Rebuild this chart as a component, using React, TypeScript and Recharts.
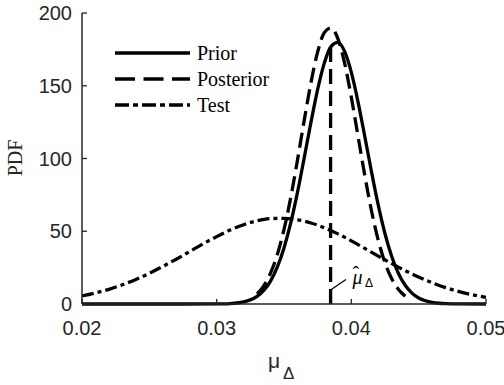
import React from 'react';
import {
  LineChart,
  Line,
  XAxis,
  YAxis,
  Legend,
  ReferenceLine,
  ReferenceDot,
} from 'recharts';

const X_TICKS = [0.02, 0.03, 0.04, 0.05];
const Y_TICKS = [0, 50, 100, 150, 200];
const SERIES_NAMES = ['Prior', 'Posterior', 'Test'];

// prior density
const priorX = [
  0.02, 0.025, 0.03, 0.0305, 0.031, 0.0315, 0.032, 0.0325, 0.033, 0.0335, 0.034, 0.0345,
  0.035, 0.0355, 0.036, 0.0365, 0.037, 0.0375, 0.038, 0.0385, 0.039, 0.0395, 0.04, 0.0405,
  0.041, 0.0415, 0.042, 0.0425, 0.043, 0.0435, 0.044, 0.0445, 0.045, 0.0455, 0.046, 0.0465,
  0.047, 0.048, 0.05,
];
const priorY = [
  0, 0, 0.06, 0.14, 0.32, 0.69, 1.44, 2.82, 5.27, 9.35, 15.75, 25.3,
  38.5, 55.7, 76.7, 100.4, 124.8, 147.5, 165.8, 177.1, 179.8, 173.6, 159.2, 138.8,
  115.1, 90.7, 67.9, 48.3, 32.7, 21.0, 12.9, 7.5, 4.1, 2.2, 1.08, 0.51,
  0.23, 0.04, 0,
];

// posterior density
const postX = [
  0.033, 0.0335, 0.034, 0.0345, 0.035, 0.0355, 0.036, 0.0365, 0.037, 0.0375, 0.038, 0.0385,
  0.039, 0.0395, 0.04, 0.0405, 0.041, 0.0415, 0.042, 0.0425, 0.043, 0.0435, 0.044,
];
const postY = [
  6.97, 12.5, 21.2, 33.9, 51.2, 73.2, 98.9, 126.2, 152.1, 173.3, 186.6, 189.8,
  182.4, 165.6, 142.1, 115.2, 88.3, 63.9, 43.7, 28.3, 17.3, 10.0, 5.4,
];

// test density
const testX = [
  0.02, 0.021, 0.022, 0.023, 0.024, 0.025, 0.026, 0.027, 0.028, 0.029, 0.03,
  0.031, 0.032, 0.033, 0.034, 0.035, 0.036, 0.037, 0.038, 0.039, 0.04,
  0.041, 0.042, 0.043, 0.044, 0.045, 0.046, 0.047, 0.048, 0.049, 0.05,
];
const testY = [
  5.5, 7.6, 10.1, 13.2, 16.9, 21.1, 25.8, 30.8, 36.1, 41.4, 46.3,
  50.8, 54.5, 57.2, 58.7, 58.9, 57.9, 55.7, 52.4, 48.2, 43.4,
  38.2, 32.9, 27.8, 22.9, 18.5, 14.6, 11.3, 8.5, 6.3, 4.6,
];

// point estimate marker
const estimateX = [0.03846, 0.03846];
const estimateY = [0, 180];

const AXIS = '#262626';
const NUM_FONT = '"Liberation Sans", Arial, sans-serif';
const SERIF = '"Liberation Serif", "Times New Roman", serif';

const LINE_W = 3.3;
const DASH_POST = '15 7';
const DASH_TEST = '12 4 4 4';

const toPoints = (xs: number[], ys: number[]) => xs.map((x, i) => ({ x, y: ys[i] }));

const prior = toPoints(priorX, priorY);
const posterior = toPoints(postX, postY);
const test = toPoints(testX, testY);
const estimate = toPoints(estimateX, estimateY);

const TICK_LEN = 5;

function BottomTick(props: any) {
  const { x, y, payload } = props;
  return (
    <g>
      <line x1={x} x2={x} y1={y} y2={y - TICK_LEN} stroke={AXIS} strokeWidth={1.3} />
      <text x={x} y={y + 31} textAnchor="middle" fill={AXIS} fontSize={20} fontFamily={NUM_FONT}>
        {Number(payload.value).toFixed(2)}
      </text>
    </g>
  );
}

function TopTick(props: any) {
  const { x, y } = props;
  return <line x1={x} x2={x} y1={y} y2={y + TICK_LEN} stroke={AXIS} strokeWidth={1.3} />;
}

function LeftTick(props: any) {
  const { x, y, payload } = props;
  return (
    <g>
      <line x1={x} x2={x + TICK_LEN} y1={y} y2={y} stroke={AXIS} strokeWidth={1.3} />
      <text x={x - 10} y={y} dy="0.36em" textAnchor="end" fill={AXIS} fontSize={20} fontFamily={NUM_FONT}>
        {payload.value}
      </text>
    </g>
  );
}

function RightTick(props: any) {
  const { x, y } = props;
  return <line x1={x} x2={x - TICK_LEN} y1={y} y2={y} stroke={AXIS} strokeWidth={1.3} />;
}

function XLabel() {
  return (
    <text x={268} y={368} fill={AXIS} fontFamily={NUM_FONT}>
      <tspan fontSize={21}>μ</tspan>
      <tspan x={283} y={379} fontSize={17}>Δ</tspan>
    </text>
  );
}

function YLabel() {
  return (
    <text
      x={15}
      y={158}
      transform="rotate(-90 15 158)"
      textAnchor="middle"
      dominantBaseline="central"
      fill={AXIS}
      fontSize={20}
      fontFamily={SERIF}
    >
      PDF
    </text>
  );
}

// hat-mu with delta subscript next to the estimate line
function EstimateLabel(props: any) {
  const vb = props.viewBox || {};
  const x = (vb.x ?? 350) + (vb.width ?? 0) / 2;
  const y = (vb.y ?? 277) + (vb.height ?? 0) / 2;
  return (
    <text x={x + 2.5} y={y + 7} fill="#000" fontFamily={SERIF} fontSize={20}>
      <tspan fontStyle="italic">μ</tspan>
      <tspan x={x + 2.5} y={y + 4}>ˆ</tspan>
      <tspan x={x + 15} y={y + 10} fontSize={12} fontFamily={NUM_FONT}>Δ</tspan>
    </text>
  );
}

function LegendBox() {
  const dashes = [undefined, '20 8.5', '14 4 5 4'];
  return (
    <svg width={170} height={80} style={{ display: 'block' }}>
      {SERIES_NAMES.map((name, i) => {
        const y = 15 + i * 26;
        return (
          <g key={name}>
            <line x1={5} x2={80} y1={y} y2={y} stroke="#000" strokeWidth={LINE_W} strokeDasharray={dashes[i]} />
            <text x={87} y={y + 7} fill="#000" fontSize={20} fontFamily={SERIF}>
              {name}
            </text>
          </g>
        );
      })}
    </svg>
  );
}

export default function App() {
  return (
    <div style={{ position: 'absolute', left: 0, top: 0, width: 504, height: 385, background: '#fff' }}>
      <LineChart width={504} height={385} margin={{ top: 13, right: 18, bottom: 0, left: 0 }}>
        <XAxis
          xAxisId="b"
          type="number"
          dataKey="x"
          domain={[0.02, 0.05]}
          ticks={X_TICKS}
          interval={0}
          height={81}
          tickSize={0}
          tickMargin={0}
          tickLine={false}
          axisLine={{ stroke: AXIS, strokeWidth: 1.5 }}
          tick={(p: any) => <BottomTick {...p} />}
          label={() => <XLabel />}
        />
        <XAxis
          xAxisId="t"
          orientation="top"
          type="number"
          dataKey="x"
          domain={[0.02, 0.05]}
          ticks={X_TICKS}
          interval={0}
          height={0}
          tickSize={0}
          tickMargin={0}
          tickLine={false}
          axisLine={{ stroke: AXIS, strokeWidth: 1.5 }}
          tick={(p: any) => <TopTick {...p} />}
        />
        <YAxis
          yAxisId="l"
          type="number"
          domain={[0, 200]}
          ticks={Y_TICKS}
          interval={0}
          width={82}
          tickSize={0}
          tickMargin={0}
          tickLine={false}
          axisLine={{ stroke: AXIS, strokeWidth: 1.5 }}
          tick={(p: any) => <LeftTick {...p} />}
          label={() => <YLabel />}
        />
        <YAxis
          yAxisId="r"
          orientation="right"
          type="number"
          domain={[0, 200]}
          ticks={Y_TICKS}
          interval={0}
          width={0}
          tickSize={0}
          tickMargin={0}
          tickLine={false}
          axisLine={{ stroke: AXIS, strokeWidth: 1.5 }}
          tick={(p: any) => <RightTick {...p} />}
        />
        <Legend
          layout="vertical"
          align="center"
          verticalAlign="middle"
          wrapperStyle={{ left: 110, top: 38, width: 170, height: 80 }}
          content={() => <LegendBox />}
        />
        <Line
          xAxisId="b"
          yAxisId="l"
          data={test}
          dataKey="y"
          name="Test"
          type="monotone"
          stroke="#000"
          strokeWidth={LINE_W}
          strokeDasharray={DASH_TEST}
          dot={false}
          activeDot={false}
          isAnimationActive={false}
        />
        <Line
          xAxisId="b"
          yAxisId="l"
          data={prior}
          dataKey="y"
          name="Prior"
          type="monotone"
          stroke="#000"
          strokeWidth={LINE_W}
          dot={false}
          activeDot={false}
          isAnimationActive={false}
        />
        <Line
          xAxisId="b"
          yAxisId="l"
          data={posterior}
          dataKey="y"
          name="Posterior"
          type="monotone"
          stroke="#000"
          strokeWidth={LINE_W}
          strokeDasharray={DASH_POST}
          dot={false}
          activeDot={false}
          isAnimationActive={false}
        />
        <Line
          xAxisId="b"
          yAxisId="l"
          data={estimate}
          dataKey="y"
          type="linear"
          stroke="#000"
          strokeWidth={LINE_W}
          strokeDasharray={DASH_POST}
          dot={false}
          activeDot={false}
          isAnimationActive={false}
        />
        <ReferenceLine
          xAxisId="b"
          yAxisId="l"
          segment={[{ x: 0.03846, y: 9.6 }, { x: 0.0396, y: 16.8 }]}
          stroke="#000"
          strokeWidth={1.3}
        />
        <ReferenceDot
          xAxisId="b"
          yAxisId="l"
          x={0.0399}
          y={18.7}
          r={0}
          stroke="none"
          fill="none"
          label={(p: any) => <EstimateLabel {...p} />}
        />
      </LineChart>
    </div>
  );
}
